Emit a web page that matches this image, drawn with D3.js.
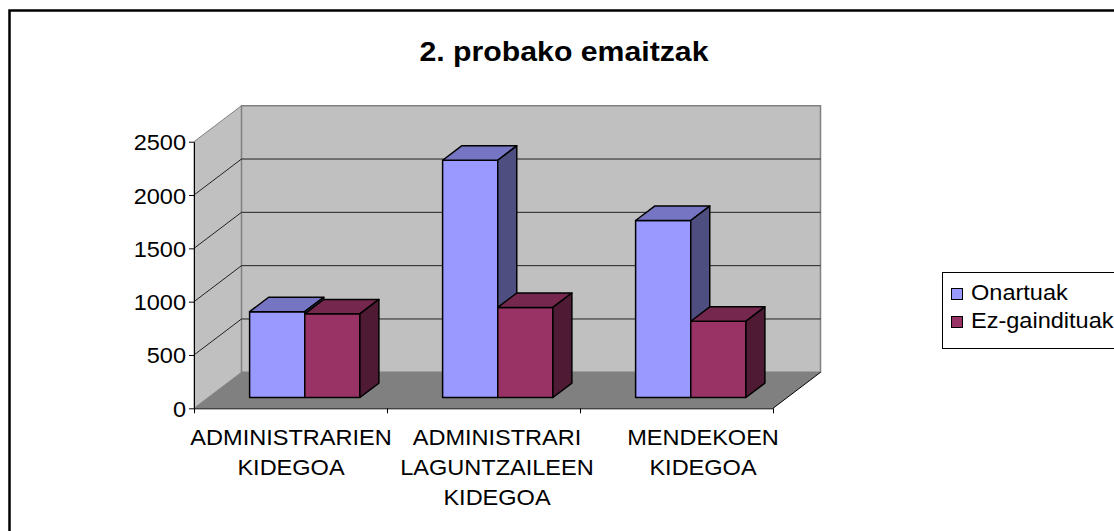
<!DOCTYPE html>
<html>
<head>
<meta charset="utf-8">
<script src="https://cdn.jsdelivr.net/npm/d3@7"></script>
<style>
  body { margin: 0; background: #fff; }
  text { font-family: "Liberation Sans", Arial, sans-serif; }
</style>
</head>
<body>
<script>
// chart data
var categories = ['ADMINISTRARIEN KIDEGOA', 'ADMINISTRARI LAGUNTZAILEEN KIDEGOA', 'MENDEKOEN KIDEGOA'];
var categoryLines = [['ADMINISTRARIEN', 'KIDEGOA'], ['ADMINISTRARI', 'LAGUNTZAILEEN', 'KIDEGOA'], ['MENDEKOEN', 'KIDEGOA']];
var seriesNames = ['Onartuak', 'Ez-gaindituak'];
var onartuak = [805, 2225, 1660];
var ezGaindituak = [785, 845, 715];
var yTicks = [0, 500, 1000, 1500, 2000, 2500];

var colors = ['#9999ff', '#993366'];
var stretch = 1.07; // text looks a bit wide in the original
var fontSize = '22px';

var svg = d3.select('body').append('svg')
  .attr('width', 1114)
  .attr('height', 531);

// outer frame
svg.append('rect')
  .attr('x', 9.5).attr('y', 10.5)
  .attr('width', 1200).attr('height', 600)
  .attr('fill', 'none')
  .attr('stroke', '#000')
  .attr('stroke-width', 2.5);

// title
svg.append('text')
  .attr('transform', 'translate(564,61) scale(1.12,1)')
  .attr('text-anchor', 'middle')
  .style('font-size', '27px')
  .style('font-weight', 'bold')
  .text('2. probako emaitzak');

// scales
var x0 = 194, x1 = 773;
var x = d3.scaleBand().domain(categories).range([x0, x1]);
var xInner = d3.scaleBand().domain(seriesNames).range([0, x.bandwidth()]).paddingOuter(0.75);
var y = d3.scaleLinear().domain([0, 2500]).range([408.3, 141.7]);
var DX = 47.5, DY = 36; // depth of the floor

var proj = function(px, v, d) {
  return [px + d * DX, y(v) - d * DY];
};
var poly = function(pts) {
  return pts.map(function(p) { return p.join(','); }).join(' ');
};

var vMax = yTicks[yTicks.length - 1];

// walls + floor
svg.append('polygon')
  .attr('points', poly([proj(x0, 0, 0), proj(x0, vMax, 0), proj(x0, vMax, 1), proj(x0, 0, 1)]))
  .attr('fill', '#c0c0c0').attr('stroke', '#808080');
svg.append('polygon')
  .attr('points', poly([proj(x0, 0, 1), proj(x0, vMax, 1), proj(x1, vMax, 1), proj(x1, 0, 1)]))
  .attr('fill', '#c0c0c0').attr('stroke', '#808080').attr('stroke-width', 1.5);
svg.append('polygon')
  .attr('points', poly([proj(x0, 0, 0), proj(x1, 0, 0), proj(x1, 0, 1), proj(x0, 0, 1)]))
  .attr('fill', '#808080').attr('stroke', 'none');
svg.append('line')
  .attr('x1', proj(x1, 0, 0)[0]).attr('y1', proj(x1, 0, 0)[1])
  .attr('x2', proj(x1, 0, 1)[0]).attr('y2', proj(x1, 0, 1)[1])
  .attr('stroke', '#000');

// gridlines
svg.selectAll('.grid')
  .data(yTicks.filter(function(t) { return t > 0 && t < vMax; }))
  .enter().append('polyline')
    .attr('class', 'grid')
    .attr('points', function(t) { return poly([proj(x0, t, 0), proj(x0, t, 1), proj(x1, t, 1)]); })
    .attr('fill', 'none')
    .attr('stroke', '#222')
    .attr('stroke-width', 1);

// bars
var series = [onartuak, ezGaindituak];
var shade = function(c, k) { return d3.rgb(c).darker(k).toString(); };
var dFront = 0.3, dBack = 0.7;

categories.forEach(function(cat, i) {
  seriesNames.forEach(function(name, s) {
    var v = series[s][i];
    var bx0 = x(cat) + xInner(name);
    var bx1 = bx0 + xInner.bandwidth();
    var g = svg.append('g')
      .attr('stroke', '#000')
      .attr('stroke-width', 1.5)
      .attr('stroke-linejoin', 'round');
    // front
    g.append('polygon')
      .attr('points', poly([proj(bx0, 0, dFront), proj(bx1, 0, dFront), proj(bx1, v, dFront), proj(bx0, v, dFront)]))
      .attr('fill', colors[s]);
    // top
    g.append('polygon')
      .attr('points', poly([proj(bx0, v, dFront), proj(bx1, v, dFront), proj(bx1, v, dBack), proj(bx0, v, dBack)]))
      .attr('fill', shade(colors[s], 0.75));
    // right side
    g.append('polygon')
      .attr('points', poly([proj(bx1, 0, dFront), proj(bx1, 0, dBack), proj(bx1, v, dBack), proj(bx1, v, dFront)]))
      .attr('fill', shade(colors[s], 1.9));
  });
});

// value axis
var yAxis = svg.append('g')
  .attr('transform', 'translate(' + x0 + ',0)')
  .call(d3.axisLeft(y).tickValues(yTicks).tickSize(5).tickSizeOuter(0).tickFormat(d3.format('d')));
yAxis.select('.domain').attr('stroke', '#000');
yAxis.selectAll('line').attr('stroke', '#000');
yAxis.selectAll('text')
  .attr('x', 0).attr('dy', null)
  .attr('transform', 'translate(-8,8) scale(' + stretch + ',1)')
  .attr('fill', '#000')
  .style('font-size', fontSize)
  .style('font-family', '"Liberation Sans", Arial, sans-serif');

// category axis (ticks at band edges)
var xEdge = d3.scaleLinear().domain([0, categories.length]).range([x0, x1]);
var xAxis = svg.append('g')
  .attr('transform', 'translate(0,' + y(0) + ')')
  .call(d3.axisBottom(xEdge).tickValues(d3.range(categories.length + 1)).tickSize(5).tickSizeOuter(0).tickFormat(''));
xAxis.select('.domain').attr('stroke', '#000');
xAxis.selectAll('line').attr('stroke', '#000');

// category labels
var xLabel = d3.scalePoint().domain(categories).range([291, 703]);
categories.forEach(function(cat, i) {
  categoryLines[i].forEach(function(line, j) {
    svg.append('text')
      .attr('transform', 'translate(' + xLabel(cat) + ',' + (445 + j * 30) + ') scale(' + stretch + ',1)')
      .attr('text-anchor', 'middle')
      .style('font-size', fontSize)
      .text(line);
  });
});

// legend
var legend = svg.append('g');
legend.append('rect')
  .attr('x', 942.5).attr('y', 272.5)
  .attr('width', 200).attr('height', 76)
  .attr('fill', '#fff').attr('stroke', '#000');
seriesNames.forEach(function(name, s) {
  legend.append('rect')
    .attr('x', 951.5).attr('y', 288.5 + s * 28)
    .attr('width', 11).attr('height', 11)
    .attr('fill', colors[s]).attr('stroke', '#000');
  legend.append('text')
    .attr('transform', 'translate(971,' + (300 + s * 27.5) + ') scale(' + stretch + ',1)')
    .style('font-size', fontSize)
    .text(name);
});
</script>
</body>
</html>
